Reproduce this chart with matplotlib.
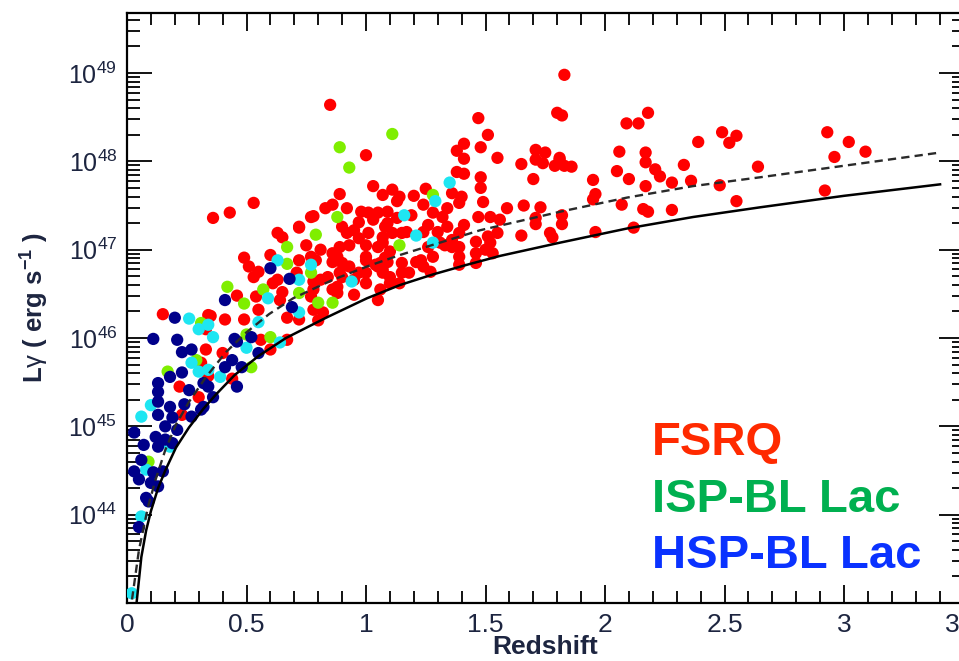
import numpy as np
import matplotlib
matplotlib.use('Agg')
import matplotlib.pyplot as plt
from matplotlib.ticker import LogLocator, MultipleLocator, NullFormatter

plt.rcParams['font.family'] = ['Liberation Sans', 'DejaVu Sans']
plt.rcParams['mathtext.fontset'] = 'custom'
plt.rcParams['mathtext.rm'] = 'Liberation Sans'
plt.rcParams['mathtext.bf'] = 'Liberation Sans:bold'
plt.rcParams['mathtext.it'] = 'Liberation Sans:italic'

# redshift and log10(L_gamma / erg s^-1)
fsrq_z = [0.85, 1.83, 1.80, 1.82, 1.47, 1.51, 2.09, 2.14, 2.18, 2.49,
          2.55, 2.52, 2.39, 2.06, 2.17, 2.17, 1.81, 1.83, 1.86, 2.33,
          2.64, 2.21, 2.23, 2.05, 2.10, 1.95, 2.28, 2.36, 2.17, 2.48,
          1.96, 1.95, 2.07, 2.55, 2.16, 2.18, 2.28, 1.82, 1.82, 1.96,
          2.12, 2.93, 3.02, 3.09, 2.96, 2.92,
          1.41, 1.48, 1.38, 1.55, 1.41, 1.71, 1.75, 1.71, 1.74, 1.65,
          1.81, 1.79, 1.38, 1.41, 1.48, 1.70, 1.48, 1.25, 1.11, 1.07,
          1.20, 1.36, 1.40, 1.13, 1.49, 1.59, 1.66, 1.73, 1.24, 1.28,
          1.34, 1.39, 1.32, 1.19, 1.09, 1.47, 1.52, 1.56, 1.71, 1.09,
          1.26, 1.34, 1.41, 1.71, 1.11, 1.15, 1.24, 1.30, 1.39, 1.55,
          1.65, 1.77, 1.78, 1.46, 1.52, 1.07, 1.33, 1.39, 1.10, 1.46,
          1.53, 1.09, 1.15, 1.21, 1.39, 1.24, 1.39, 1.46, 1.07, 1.15,
          1.27, 1.10, 1.14, 1.28, 1.36, 1.50,
          1.00, 1.03, 0.89, 0.83, 0.86, 0.92, 1.14, 0.78, 0.98, 1.01,
          1.05, 0.72, 0.90, 0.97, 1.08, 1.13, 0.92, 0.95, 1.01, 1.07,
          1.17, 0.81, 0.86, 0.89, 0.93, 1.00, 1.05, 0.77, 0.86, 0.90,
          0.93, 1.00, 1.04, 1.08, 0.78, 0.84, 1.00, 1.07, 0.78, 0.88,
          0.95, 1.06, 0.82, 1.05,
          0.36, 0.43, 0.53, 0.63, 0.65, 0.72, 0.77, 0.49, 0.51, 0.60,
          0.55, 0.46, 0.54, 0.65, 0.35, 0.41, 0.49, 0.15, 0.34, 0.64,
          0.67, 0.33, 0.56, 0.67, 0.33, 0.40, 0.60, 0.31, 0.34, 0.44,
          0.22, 0.30, 0.23,
          0.97, 1.03, 0.88, 1.05, 0.90, 0.95, 1.00, 0.88, 0.75, 0.79,
          0.72, 0.71, 0.77, 0.63, 0.61, 0.53, 0.78, 0.72, 0.80, 0.55,
          1.36, 1.51, 1.31, 1.26, 1.23, 1.18, 1.10, 1.00, 1.06, 0.89,
          0.97, 0.81, 0.86]
fsrq_logl = [48.64, 48.98, 48.55, 48.52, 48.49, 48.30, 48.43, 48.43, 48.55, 48.33,
             48.29, 48.21, 48.22, 48.11, 48.10, 47.99, 48.04, 47.95, 47.94, 47.96,
             47.94, 47.91, 47.83, 47.89, 47.80, 47.79, 47.76, 47.78, 47.72, 47.73,
             47.63, 47.57, 47.51, 47.55, 47.46, 47.43, 47.45, 47.39, 47.29, 47.20,
             47.25, 48.33, 48.22, 48.11, 48.05, 47.67,
             48.20, 48.16, 48.12, 48.04, 48.03, 48.13, 48.10, 48.02, 47.98, 47.97,
             48.02, 47.95, 47.88, 47.86, 47.82, 47.80, 47.70, 47.69, 47.68, 47.62,
             47.61, 47.64, 47.60, 47.55, 47.54, 47.47, 47.50, 47.48, 47.51, 47.42,
             47.47, 47.53, 47.37, 47.39, 47.43, 47.37, 47.37, 47.34, 47.36, 47.30,
             47.28, 47.26, 47.28, 47.29, 47.19, 47.19, 47.20, 47.20, 47.19, 47.19,
             47.16, 47.19, 47.14, 47.09, 47.08, 47.08, 47.05, 47.03, 46.98, 46.96,
             46.96, 46.86, 46.85, 46.86, 46.92, 46.81, 46.83, 46.85, 46.77, 46.74,
             46.75, 46.69, 46.62, 46.92, 47.03, 47.00,
             48.07, 47.72, 47.63, 47.47, 47.51, 47.47, 47.60, 47.38, 47.43, 47.42,
             47.42, 47.26, 47.26, 47.31, 47.26, 47.36, 47.19, 47.22, 47.19, 47.14,
             47.20, 47.00, 46.96, 47.03, 47.05, 47.05, 47.03, 46.92, 46.86, 46.85,
             46.81, 46.88, 46.83, 46.91, 46.64, 46.69, 46.74, 46.74, 46.55, 46.51,
             46.49, 46.55, 46.29, 46.43,
             47.36, 47.42, 47.53, 47.19, 47.14, 47.25, 47.37, 46.91, 46.81, 46.94,
             46.75, 46.48, 46.47, 46.52, 46.25, 46.21, 46.21, 46.27, 46.26, 46.43,
             46.23, 46.10, 45.98, 45.98, 45.87, 45.83, 45.87, 45.72, 45.57, 45.54,
             45.45, 45.33, 45.13,
             47.13, 47.34, 46.92, 46.81, 46.69, 46.66, 46.62, 46.58, 47.05, 46.88,
             46.88, 46.74, 46.47, 46.66, 46.62, 46.69, 46.32, 46.21, 46.20, 46.32,
             47.11, 47.15, 47.08, 47.03, 46.88, 46.74, 46.62, 46.92, 46.85, 46.74,
             46.74, 46.66, 46.55]

isp_z = [1.11, 0.89, 0.93, 1.28, 1.14, 0.88, 0.79, 0.77, 0.72, 0.80,
         0.86, 0.67, 0.67, 0.42, 0.49, 0.57, 0.31, 0.50, 0.60, 0.52,
         0.29, 0.17, 0.09]
isp_logl = [48.31, 48.16, 47.93, 47.62, 47.05, 47.37, 47.17, 46.74, 46.51, 46.40,
            46.40, 47.03, 46.84, 46.58, 46.39, 46.55, 46.17, 46.04, 46.01, 45.67,
            45.75, 45.62, 44.60]

other_z = [1.35, 1.29, 1.16, 1.21, 1.28, 0.77, 0.72, 0.94, 0.72, 0.63,
           0.59, 0.55, 0.34, 0.36, 0.26, 0.30, 0.64, 0.50, 0.27, 0.30,
           0.34, 0.39, 0.10, 0.06, 0.18, 0.08, 0.06, 0.02]
other_logl = [47.76, 47.55, 47.39, 47.16, 47.08, 46.83, 46.66, 46.64, 46.29, 46.88,
              46.45, 46.18, 46.15, 46.01, 46.22, 46.10, 45.95, 45.89, 45.72, 45.62,
              45.64, 45.56, 45.24, 45.11, 44.77, 44.51, 43.98, 43.11]

hsp_z = [0.41, 0.60, 0.68, 0.69, 0.45, 0.52, 0.20, 0.11, 0.21, 0.46,
         0.23, 0.27, 0.55, 0.44, 0.41, 0.48, 0.18, 0.23, 0.13, 0.26,
         0.32, 0.36, 0.46, 0.13, 0.13, 0.18, 0.13, 0.19, 0.27, 0.32,
         0.16, 0.21, 0.03, 0.12, 0.16, 0.07, 0.13, 0.19, 0.06, 0.03,
         0.05, 0.11, 0.15, 0.10, 0.13, 0.08, 0.09, 0.05, 0.24, 0.31,
         0.34]
hsp_logl = [46.43, 46.79, 46.67, 46.35, 45.99, 46.01, 46.23, 45.99, 45.98, 45.96,
            45.84, 45.87, 45.83, 45.75, 45.67, 45.67, 45.56, 45.61, 45.49, 45.41,
            45.49, 45.33, 45.45, 45.39, 45.28, 45.22, 45.13, 45.10, 45.11, 45.22,
            45.00, 44.96, 44.93, 44.88, 44.85, 44.79, 44.77, 44.81, 44.62, 44.49,
            44.40, 44.48, 44.49, 44.36, 44.32, 44.19, 44.15, 43.86, 45.25, 45.19,
            45.45]

# flux limit curves
solid_z = [0.040, 0.060, 0.080, 0.100, 0.130, 0.160, 0.205, 0.260, 0.320, 0.372,
           0.450, 0.552, 0.665, 0.833, 1.004, 1.142, 1.280, 1.423, 1.561, 1.812,
           2.092, 2.368, 2.649, 3.000, 3.402]
solid_logl = [43.00, 43.52, 43.82, 44.04, 44.30, 44.50, 44.76, 44.99, 45.20, 45.36,
              45.58, 45.80, 46.00, 46.23, 46.45, 46.60, 46.72, 46.83, 46.93, 47.08,
              47.24, 47.37, 47.48, 47.61, 47.74]
dashed_z = [0.021, 0.050, 0.088, 0.120, 0.160, 0.205, 0.260, 0.331, 0.414, 0.498,
            0.594, 0.695, 0.862, 1.004, 1.142, 1.477, 1.812, 2.092, 2.368, 2.649,
            3.402]
dashed_logl = [43.04, 43.60, 44.09, 44.40, 44.73, 45.02, 45.28, 45.56, 45.84, 46.06,
               46.27, 46.45, 46.66, 46.81, 46.94, 47.22, 47.43, 47.59, 47.72, 47.82,
               48.10]

xticks = [0, 0.5, 1, 1.5, 2, 2.5, 3, 3.5]
xticklabels = ['0', '0.5', '1', '1.5', '2', '2.5', '3', '3.5']
ydecades = [44, 45, 46, 47, 48, 49]


fig = plt.figure(figsize=(9.59, 6.61), dpi=100)
ax = fig.add_axes([127 / 959, 58 / 661, 836.5 / 959, 590 / 661])

ms = 78
ax.scatter(fsrq_z, 10 ** np.array(fsrq_logl), s=ms, c='#ff0000', edgecolors='none', zorder=2)
ax.scatter(isp_z, 10 ** np.array(isp_logl), s=ms, c='#7fee00', edgecolors='none', zorder=3)
ax.scatter(other_z, 10 ** np.array(other_logl), s=ms, c='#1ee6f2', edgecolors='none', zorder=3)
ax.scatter(hsp_z, 10 ** np.array(hsp_logl), s=ms, c='#00008a', edgecolors='none', zorder=4)

ax.plot(solid_z, 10 ** np.array(solid_logl), color='black', lw=1.8, zorder=5)
ax.plot(dashed_z, 10 ** np.array(dashed_logl), color='#2a2a2a', lw=1.7,
        ls=(0, (3.5, 2.2)), zorder=5)

ax.set_yscale('log')
ax.set_xlim(0, 3.5)
ax.set_ylim(1e43, 10 ** 49.68)

ax.set_xticks(xticks, xticklabels)
ax.xaxis.set_minor_locator(MultipleLocator(0.1))
ax.set_yticks([10.0 ** d for d in ydecades], ['$10^{%d}$' % d for d in ydecades])
ax.yaxis.set_minor_locator(LogLocator(base=10, subs=np.arange(2, 10), numticks=30))
ax.yaxis.set_minor_formatter(NullFormatter())

ax.tick_params(which='both', direction='in', top=True, right=True, width=1.3,
               labelcolor='#1d2540')
ax.tick_params(axis='y', which='major', length=18, pad=7, labelsize=18)
ax.tick_params(axis='y', which='minor', length=9)
ax.tick_params(axis='x', which='major', length=13, pad=7, labelsize=19)
ax.tick_params(axis='x', which='minor', length=8.5)
for sp in ax.spines.values():
    sp.set_linewidth(1.6)

fig.text(545 / 959, 2 / 661, 'Redshift', ha='center', va='bottom', fontsize=19,
         fontweight='bold', color='#1d2540')
fig.text(35 / 959, 1 - 308 / 661, 'L$\\mathrm{\\gamma}$ ( erg s$^{\\mathbf{-1}}$ )',
         rotation=90, ha='center', va='center', fontsize=18.5, fontweight='bold',
         color='#1d2540')

fig.text(652 / 959, 1 - 455 / 661, 'FSRQ', color='#ff2a00', fontsize=34,
         fontweight='bold', va='baseline')
fig.text(652 / 959, 1 - 512 / 661, 'ISP-BL Lac', color='#00b050', fontsize=34,
         fontweight='bold', va='baseline')
fig.text(652 / 959, 1 - 568 / 661, 'HSP-BL Lac', color='#0a32ff', fontsize=34,
         fontweight='bold', va='baseline')

fig.savefig('out.png', dpi=100)
